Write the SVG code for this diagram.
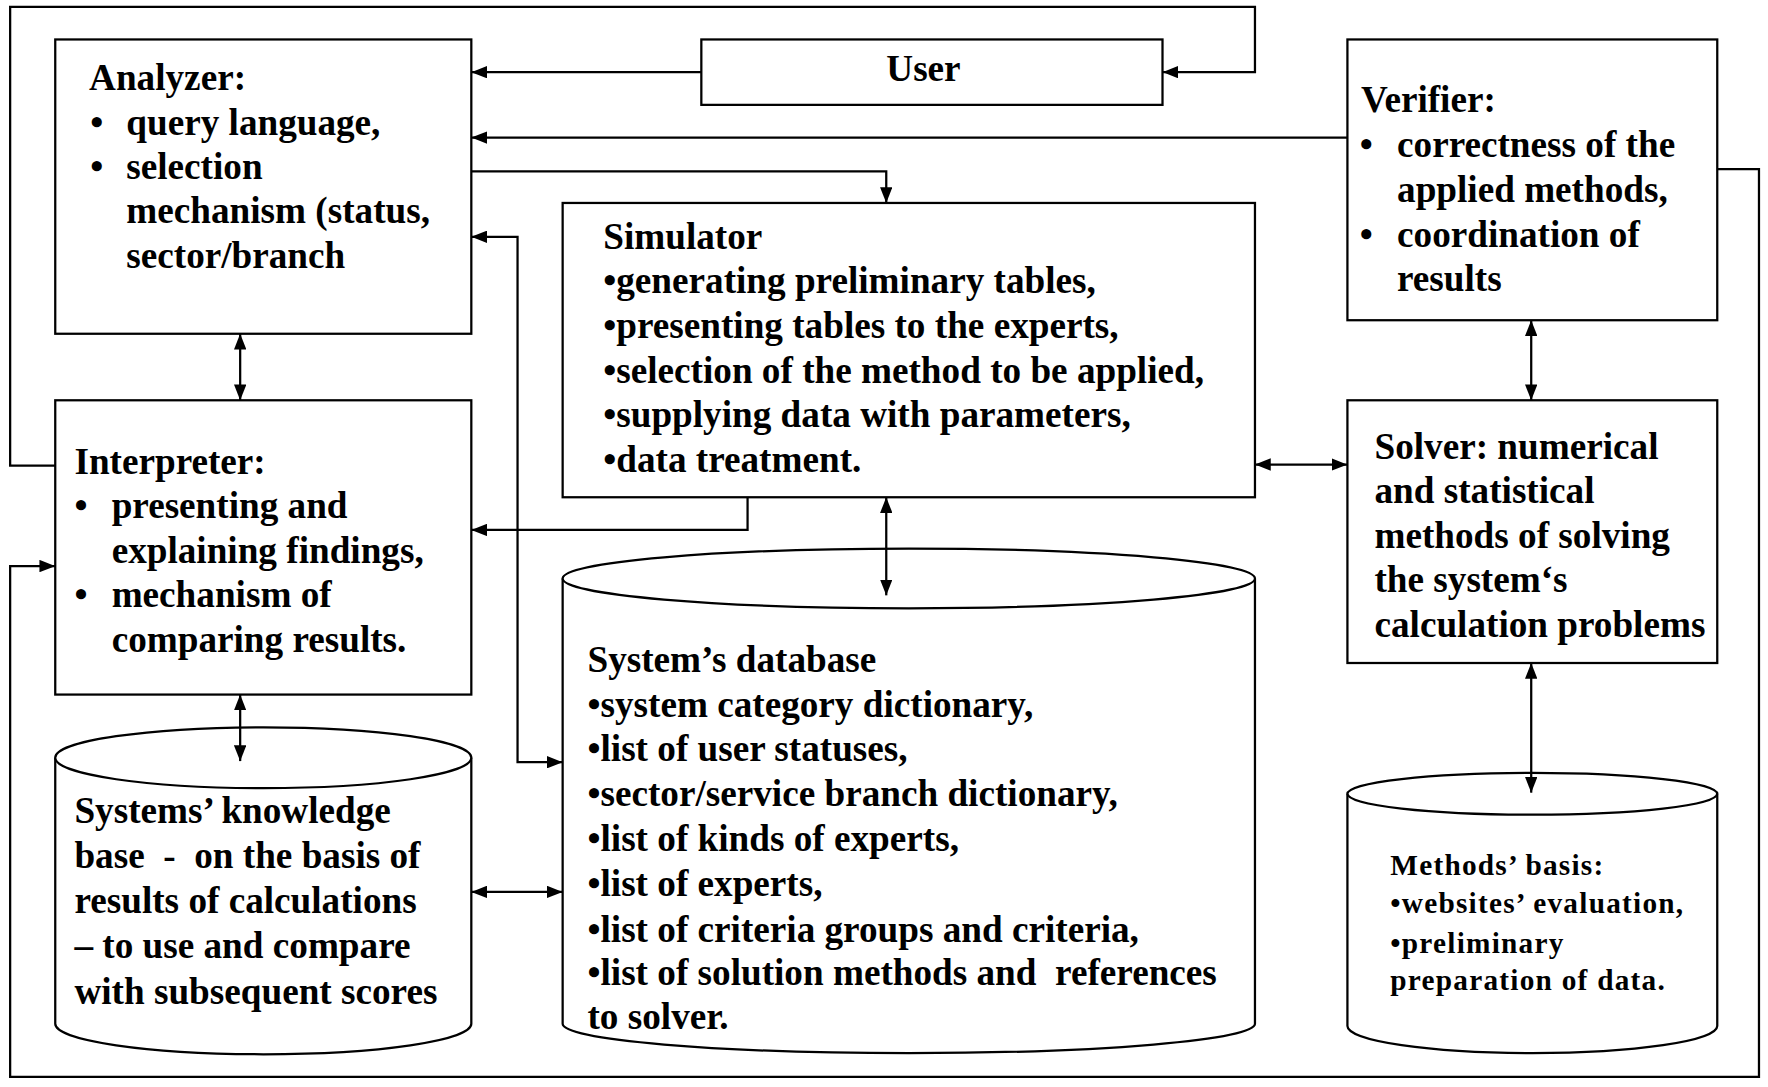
<svg xmlns="http://www.w3.org/2000/svg" width="1768" height="1087" viewBox="0 0 1768 1087">
<style>
.box{fill:#fff;stroke:#000;stroke-width:2}
.ln{fill:none;stroke:#000;stroke-width:2}
.t{font-family:"Liberation Serif","Times New Roman",serif;font-weight:bold;font-size:33px;fill:#000}
.s{font-size:26px;letter-spacing:1.1px}
</style>
<defs>
<marker id="ah" viewBox="0 0 14 11" refX="14" refY="5.5" markerWidth="14" markerHeight="11" markerUnits="userSpaceOnUse" orient="auto-start-reverse">
<path d="M0,0 L14,5.5 L0,11 z" fill="#000"/>
</marker>
</defs>
<rect width="1768" height="1087" fill="#fff"/>
<g transform="scale(1.12755)">
<g id="user">
<rect class="box" x="622" y="35" width="409" height="58"/>
<text class="t" x="819" y="72" text-anchor="middle">User</text>
</g>
<g id="analyzer">
<rect class="box" x="49" y="35" width="369" height="261"/>
<text class="t" x="79" y="80">Analyzer:</text>
<text class="t" x="80" y="120">•</text><text class="t" x="112" y="120">query language,</text>
<text class="t" x="80" y="159">•</text><text class="t" x="112" y="159">selection</text>
<text class="t" x="112" y="198">mechanism (status,</text>
<text class="t" x="112" y="238">sector/branch</text>
</g>
<g id="verifier">
<rect class="box" x="1195" y="35" width="328" height="249"/>
<text class="t" x="1207" y="99">Verifier:</text>
<text class="t" x="1206" y="139">•</text><text class="t" x="1239" y="139">correctness of the</text>
<text class="t" x="1239" y="179">applied methods,</text>
<text class="t" x="1206" y="219">•</text><text class="t" x="1239" y="219">coordination of</text>
<text class="t" x="1239" y="258">results</text>
</g>
<g id="simulator">
<rect class="box" x="499" y="180" width="614" height="261"/>
<text class="t" x="535" y="221">Simulator</text>
<text class="t" x="535" y="260">•generating preliminary tables,</text>
<text class="t" x="535" y="300">•presenting tables to the experts,</text>
<text class="t" x="535" y="340">•selection of the method to be applied,</text>
<text class="t" x="535" y="379">•supplying data with parameters,</text>
<text class="t" x="535" y="419">•data treatment.</text>
</g>
<g id="interpreter">
<rect class="box" x="49" y="355" width="369" height="261"/>
<text class="t" x="66" y="420">Interpreter:</text>
<text class="t" x="66" y="459">•</text><text class="t" x="99" y="459">presenting and</text>
<text class="t" x="99" y="499">explaining findings,</text>
<text class="t" x="66" y="538">•</text><text class="t" x="99" y="538">mechanism of</text>
<text class="t" x="99" y="578">comparing results.</text>
</g>
<g id="solver">
<rect class="box" x="1195" y="355" width="328" height="233"/>
<text class="t" x="1219" y="407">Solver: numerical</text>
<text class="t" x="1219" y="446">and statistical</text>
<text class="t" x="1219" y="486">methods of solving</text>
<text class="t" x="1219" y="525">the system‘s</text>
<text class="t" x="1219" y="565">calculation problems</text>
</g>
<g id="knowledge-base">
<path class="box" d="M49,672 L49,908 A184.5,27 0 0 0 418,908 L418,672"/>
<ellipse class="box" cx="233.5" cy="672" rx="184.5" ry="27"/>
<text class="t" x="66" y="730">Systems’ knowledge</text>
<text class="t" x="66" y="770" xml:space="preserve">base  -  on the basis of</text>
<text class="t" x="66" y="810">results of calculations</text>
<text class="t" x="66" y="850">– to use and compare</text>
<text class="t" x="66" y="890">with subsequent scores</text>
</g>
<g id="database">
<path class="box" d="M499,513 L499,908 A307,26 0 0 0 1113,908 L1113,513"/>
<ellipse class="box" cx="806" cy="513" rx="307" ry="26.5"/>
<text class="t" x="521" y="596">System’s database</text>
<text class="t" x="521" y="636">•system category dictionary,</text>
<text class="t" x="521" y="675">•list of user statuses,</text>
<text class="t" x="521" y="715">•sector/service branch dictionary,</text>
<text class="t" x="521" y="755">•list of kinds of experts,</text>
<text class="t" x="521" y="795">•list of experts,</text>
<text class="t" x="521" y="835">•list of criteria groups and criteria,</text>
<text class="t" x="521" y="874" xml:space="preserve">•list of solution methods and  references</text>
<text class="t" x="521" y="913">to solver.</text>
</g>
<g id="methods-basis">
<path class="box" d="M1195,704 L1195,910 A164,24 0 0 0 1523,910 L1523,704"/>
<ellipse class="box" cx="1359" cy="704" rx="164" ry="18.5"/>
<text class="t s" x="1233" y="776">Methods’ basis:</text>
<text class="t s" x="1233" y="810">•websites’ evaluation,</text>
<text class="t s" x="1233" y="845">•preliminary</text>
<text class="t s" x="1233" y="878">preparation of data.</text>
</g>
<g id="connectors">
<polyline class="ln" points="49,413 9,413 9,6 1113,6 1113,64 1031,64" marker-end="url(#ah)"/>
<polyline class="ln" points="1523,150 1560,150 1560,955 9,955 9,502 49,502" marker-end="url(#ah)"/>
<line class="ln" x1="622" y1="64" x2="418" y2="64" marker-end="url(#ah)"/>
<line class="ln" x1="1195" y1="122" x2="418" y2="122" marker-end="url(#ah)"/>
<polyline class="ln" points="418,152 786,152 786,180" marker-end="url(#ah)"/>
<polyline class="ln" points="663,441 663,470 418,470" marker-end="url(#ah)"/>
<polyline class="ln" points="418,210 459,210 459,676 499,676" marker-start="url(#ah)" marker-end="url(#ah)"/>
<line class="ln" x1="213" y1="296" x2="213" y2="355" marker-start="url(#ah)" marker-end="url(#ah)"/>
<line class="ln" x1="213" y1="616" x2="213" y2="675" marker-start="url(#ah)" marker-end="url(#ah)"/>
<line class="ln" x1="418" y1="791" x2="499" y2="791" marker-start="url(#ah)" marker-end="url(#ah)"/>
<line class="ln" x1="786" y1="441" x2="786" y2="528" marker-start="url(#ah)" marker-end="url(#ah)"/>
<line class="ln" x1="1113" y1="412" x2="1195" y2="412" marker-start="url(#ah)" marker-end="url(#ah)"/>
<line class="ln" x1="1358" y1="284" x2="1358" y2="355" marker-start="url(#ah)" marker-end="url(#ah)"/>
<line class="ln" x1="1358" y1="588" x2="1358" y2="703" marker-start="url(#ah)" marker-end="url(#ah)"/>
</g>
</g>
</svg>
